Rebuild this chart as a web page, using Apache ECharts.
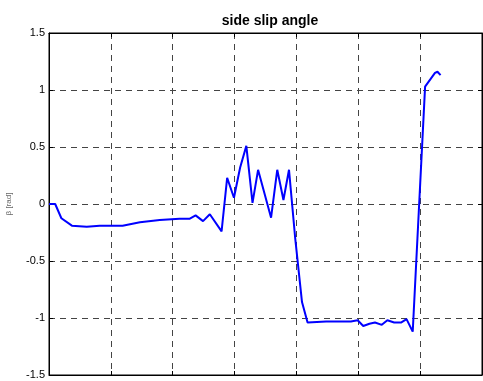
<!DOCTYPE html>
<html>
<head>
<meta charset="utf-8">
<style>
  html, body { margin: 0; padding: 0; background: #fff; }
  #chart { width: 483px; height: 381px; }
</style>
<script src="https://cdn.jsdelivr.net/npm/echarts@6/dist/echarts.min.js"></script>
</head>
<body>
<div id="chart"></div>
<script>
// Time samples and side slip angle values of the trace
const timeValues = [
  0, 0.1, 0.2, 0.37, 0.61, 0.82, 1.19, 1.47, 1.79, 2.11, 2.27, 2.37, 2.49, 2.60,
  2.79, 2.88, 2.99, 3.09, 3.19, 3.29, 3.38, 3.59, 3.69, 3.79, 3.88, 3.98, 4.09,
  4.18, 4.48, 4.88, 4.99, 5.08, 5.18, 5.27, 5.38, 5.47, 5.58, 5.69, 5.78, 5.88,
  6.08, 6.24, 6.28, 6.33
];
const slipValues = [
  0, 0, -0.125, -0.19, -0.20, -0.19, -0.19, -0.16, -0.14, -0.13, -0.13, -0.10, -0.15, -0.09,
  -0.24, 0.23, 0.055, 0.32, 0.51, 0.01, 0.30, -0.12, 0.30, 0.035, 0.30, -0.30, -0.86,
  -1.04, -1.03, -1.03, -1.02, -1.07, -1.05, -1.04, -1.06, -1.02, -1.04, -1.04, -1.01, -1.12,
  1.03, 1.15, 1.16, 1.13
];
const xTicks = [0, 1, 2, 3, 4, 5, 6, 7];
const yTicks = [-1.5, -1, -0.5, 0, 0.5, 1, 1.5];

const points = timeValues.map((t, i) => [t, slipValues[i]]);

const gridDash = { color: '#444', type: [6, 5], width: 1 };
const font = 'Arial, "Liberation Sans", sans-serif';
const frameLine = { show: true, onZero: false, lineStyle: { color: '#000', width: 1 } };
const inTick = { show: true, inside: true, length: 4, lineStyle: { color: '#000' } };

const chart = echarts.init(document.getElementById('chart'), null, { renderer: 'canvas' });
chart.setOption({
  animation: false,
  backgroundColor: '#fff',
  title: {
    text: 'side slip angle',
    left: 265, top: 9, textAlign: 'center',
    textStyle: { fontFamily: font, fontSize: 14, fontWeight: 'bold', color: '#000' }
  },
  grid: {
    left: 49, right: 1, top: 33, bottom: 6,
    outerBoundsMode: 'none', containLabel: false,
    show: true, borderColor: '#000', borderWidth: 1
  },
  xAxis: [{
    type: 'value',
    min: xTicks[0], max: xTicks[xTicks.length - 1], interval: 1,
    axisLine: frameLine,
    axisTick: inTick,
    axisLabel: { margin: 5, fontFamily: font, fontSize: 11, color: '#000' },
    splitLine: { show: true, lineStyle: gridDash }
  }, {
    type: 'value', position: 'top',
    min: xTicks[0], max: xTicks[xTicks.length - 1], interval: 1,
    axisLine: frameLine,
    axisTick: inTick,
    axisLabel: { show: false }, splitLine: { show: false }
  }],
  yAxis: [{
    type: 'value',
    min: yTicks[0], max: yTicks[yTicks.length - 1], interval: 0.5,
    name: 'β [rad]', nameLocation: 'middle', nameGap: 36,
    nameTextStyle: { fontFamily: font, fontSize: 8, color: '#666' },
    axisLine: frameLine,
    axisTick: inTick,
    axisLabel: { margin: 4, fontFamily: font, fontSize: 11, color: '#000' },
    splitLine: { show: true, lineStyle: gridDash }
  }, {
    type: 'value', position: 'right',
    min: yTicks[0], max: yTicks[yTicks.length - 1], interval: 0.5,
    axisLine: frameLine,
    axisTick: inTick,
    axisLabel: { show: false }, splitLine: { show: false }
  }],
  series: [{
    type: 'line',
    data: points,
    showSymbol: false,
    lineStyle: { color: '#0000ff', width: 2 },
    itemStyle: { color: '#0000ff' }
  }]
});
</script>
</body>
</html>
